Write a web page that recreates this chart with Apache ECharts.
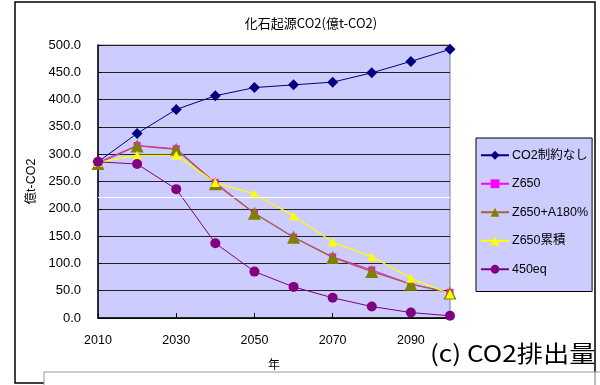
<!DOCTYPE html>
<html>
<head>
<meta charset="utf-8">
<script src="https://cdn.jsdelivr.net/npm/echarts@6/dist/echarts.min.js"></script>
<style>
  html, body { margin: 0; padding: 0; background: #fff; }
  #chart { width: 600px; height: 385px; }
</style>
</head>
<body>
<div id="chart"></div>
<script>
// Years on the horizontal axis
var years = ['2010', '2020', '2030', '2040', '2050', '2060', '2070', '2080', '2090', '2100'];

// Fossil-fuel CO2 emissions per scenario (100 million t-CO2)
var noLimit   = [286, 338, 382, 407, 422, 427, 432, 449, 470, 492];
var z650      = [285, 316, 310, 248, 192, 148, 112, 88, 62, 47];
var z650A180  = [283, 315, 309, 246, 192, 148, 111, 85, 62, 46];
var z650Cum   = [285, 298, 298, 248, 227, 187, 139, 112, 73, 44];
var eq450     = [286, 282, 236, 137, 85, 57, 37, 21, 10, 4];

var seriesNames = ['CO2制約なし', 'Z650', 'Z650+A180%', 'Z650累積', '450eq'];

var FONT = '"Liberation Sans", "Noto Sans CJK JP", sans-serif';
var CJK = '"Noto Sans CJK JP", sans-serif';

var chart = echarts.init(document.getElementById('chart'));

chart.setOption({
  animation: false,
  backgroundColor: '#ffffff',
  title: {
    text: '化石起源CO2(億t-CO2)',
    left: 306,
    top: 12,
    textAlign: 'center',
    textStyle: { fontSize: 13, fontWeight: 'normal', color: '#000', fontFamily: CJK }
  },
  grid: {
    left: 98,
    right: 150,
    top: 45,
    bottom: 67,
    show: true,
    backgroundColor: '#CCCCFF',
    borderColor: '#808080',
    borderWidth: 1
  },
  legend: {
    orient: 'vertical',
    left: 476,
    top: 138,
    width: 117,
    height: 150,
    padding: [11, 4, 16, 4],
    itemGap: 16,
    itemWidth: 28,
    itemHeight: 11,
    backgroundColor: '#CCCCFF',
    borderColor: '#000',
    borderWidth: 1,
    data: seriesNames,
    textStyle: { fontSize: 12.5, color: '#000', fontFamily: FONT, padding: [0, 0, 0, -2] }
  },
  xAxis: {
    type: 'category',
    data: years,
    boundaryGap: false,
    name: '年',
    nameLocation: 'middle',
    nameGap: 40,
    nameTextStyle: { fontSize: 12, color: '#000', fontFamily: CJK },
    axisLine: { lineStyle: { color: '#000', width: 1.5 } },
    axisTick: { inside: true, length: 5, interval: 1, lineStyle: { color: '#000' } },
    axisLabel: { interval: 1, margin: 16, fontSize: 12.5, color: '#000', fontFamily: FONT },
    splitLine: { show: false }
  },
  yAxis: {
    type: 'value',
    min: 0,
    max: 500,
    interval: 50,
    name: '億t-CO2',
    nameLocation: 'middle',
    nameGap: 53,
    nameRotate: 90,
    nameTextStyle: { fontSize: 12.5, color: '#000', fontFamily: FONT },
    axisLine: { show: true, lineStyle: { color: '#000', width: 1.5 } },
    axisTick: { show: true, inside: true, length: 4, lineStyle: { color: '#000' } },
    axisLabel: {
      margin: 17,
      fontSize: 13,
      color: '#000',
      fontFamily: FONT,
      formatter: function (v) { return v.toFixed(1); }
    },
    splitLine: { lineStyle: { color: '#222', width: 1 } }
  },
  series: [
    {
      name: seriesNames[0],
      type: 'line',
      data: noLimit,
      symbol: 'diamond',
      symbolSize: 11,
      color: '#000080',
      lineStyle: { color: '#000080', width: 1 },
      itemStyle: { color: '#000080' },
      markLine: {
        silent: true,
        symbol: 'none',
        label: { show: false },
        lineStyle: { color: '#ffffff', type: 'solid', width: 1 },
        data: [{ yAxis: 222 }]
      }
    },
    {
      name: seriesNames[1],
      type: 'line',
      data: z650,
      symbol: 'rect',
      symbolSize: 7,
      color: '#FF00FF',
      lineStyle: { color: '#FF00FF', width: 1 },
      itemStyle: { color: '#FF00FF' }
    },
    {
      name: seriesNames[2],
      type: 'line',
      data: z650A180,
      symbol: 'triangle',
      symbolSize: 13,
      color: '#808000',
      lineStyle: { color: '#A0643C', width: 1.2 },
      itemStyle: { color: '#808000' }
    },
    {
      name: seriesNames[3],
      type: 'line',
      data: z650Cum,
      symbol: 'triangle',
      symbolSize: 9,
      color: '#FFFF00',
      lineStyle: { color: '#FFFF00', width: 1.2 },
      itemStyle: { color: '#FFFF00' }
    },
    {
      name: seriesNames[4],
      type: 'line',
      data: eq450,
      symbol: 'circle',
      symbolSize: 10,
      color: '#800080',
      lineStyle: { color: '#800080', width: 1 },
      itemStyle: { color: '#800080' }
    }
  ],
  graphic: [
    {
      type: 'rect',
      z: -10,
      shape: { x: 15, y: 2, width: 580, height: 381 },
      style: { fill: 'none', stroke: '#000', lineWidth: 1.5 }
    },
    {
      type: 'rect',
      z: 100,
      shape: { x: 44, y: 372, width: 570, height: 30 },
      style: { fill: '#fff', stroke: '#999', lineWidth: 1 }
    },
    {
      type: 'line',
      z: 101,
      shape: { x1: 595, y1: 372, x2: 595, y2: 385 },
      style: { stroke: '#777', lineWidth: 1 }
    },
    {
      type: 'text',
      z: 101,
      x: 430,
      y: 342,
      scaleX: 1.14,
      style: {
        text: '(c) CO2排出量',
        fontSize: 23,
        fill: '#000',
        fontFamily: CJK
      }
    }
  ]
});
</script>
</body>
</html>
